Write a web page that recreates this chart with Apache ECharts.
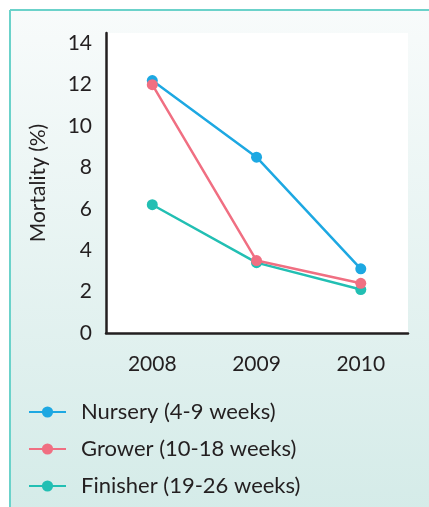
<!DOCTYPE html>
<html><head><meta charset="utf-8">
<script src="https://cdn.jsdelivr.net/npm/echarts@6/dist/echarts.min.js"></script>
<style>html,body{margin:0;padding:0;background:#fff}#c{width:429px;height:507px}</style>
</head><body><div id="c"></div>
<script>
const years = ['2008', '2009', '2010'];
const yTicks = [0, 2, 4, 6, 8, 10, 12, 14];
const nursery = [12.2, 8.5, 3.1];
const grower = [12.0, 3.5, 2.4];
const finisher = [6.2, 3.4, 2.1];
const seriesNames = ['Nursery (4-9 weeks)', 'Grower (10-18 weeks)', 'Finisher (19-26 weeks)'];
const colors = ['#1da8e2', '#f06f82', '#22bfb3'];

const FONT = 'Lato';
const TXT = '#231f20';
const yearNums = years.map(Number);
const mk = vals => vals.map((v, i) => [yearNums[i], v]);
const zOrder = [1, 3, 2];

const chart = echarts.init(document.getElementById('c'), null, {renderer: 'canvas'});
chart.setOption({
  animation: false,
  backgroundColor: '#ffffff',
  graphic: [
    {type: 'rect', z: -10, silent: true, shape: {x: 10, y: 10, width: 430, height: 510},
     style: {fill: new echarts.graphic.LinearGradient(0, 0, 0, 1, [
       {offset: 0, color: '#f8fbfb'}, {offset: 1, color: '#d4ebe8'}])}},
    {type: 'line', z: -9, silent: true, shape: {x1: 10, y1: 10, x2: 429, y2: 10}, style: {stroke: '#6bd2ca', lineWidth: 2}},
    {type: 'line', z: -9, silent: true, shape: {x1: 10, y1: 10, x2: 10, y2: 507}, style: {stroke: '#6bd2ca', lineWidth: 2}}
  ],
  grid: {left: 106, top: 33, right: 21, bottom: 174, show: true, backgroundColor: '#ffffff', borderWidth: 0},
  xAxis: {
    type: 'value', min: 2007.556, max: 2010.453,
    axisLine: {show: true, onZero: false, lineStyle: {color: TXT, width: 2.5}},
    axisTick: {show: false}, splitLine: {show: false},
    axisLabel: {customValues: yearNums, formatter: v => String(v), color: TXT, fontFamily: FONT, fontSize: 21, margin: 21}
  },
  yAxis: {
    type: 'value', min: 0, max: 14.5, interval: 2,
    name: 'Mortality (%)', nameLocation: 'middle', nameGap: 57, nameRotate: 90,
    nameTextStyle: {color: TXT, fontFamily: FONT, fontSize: 21},
    axisLine: {show: true, onZero: false, lineStyle: {color: TXT, width: 2.5}},
    axisTick: {show: false}, splitLine: {show: false},
    axisLabel: {customValues: yTicks, color: TXT, fontFamily: FONT, fontSize: 21, margin: 14}
  },
  legend: {
    orient: 'vertical', left: 28, top: 401, padding: 0, itemGap: 15, itemWidth: 37, itemHeight: 14,
    textStyle: {color: TXT, fontFamily: FONT, fontSize: 22, padding: [0, 0, 0, 10]},
    data: seriesNames
  },
  series: [nursery, grower, finisher].map((vals, i) => ({
    name: seriesNames[i], type: 'line', data: mk(vals),
    symbol: 'circle', symbolSize: 11, color: colors[i],
    lineStyle: {width: 2.5, color: colors[i]}, itemStyle: {color: colors[i]},
    z: zOrder[i]
  }))
});
</script></body></html>
